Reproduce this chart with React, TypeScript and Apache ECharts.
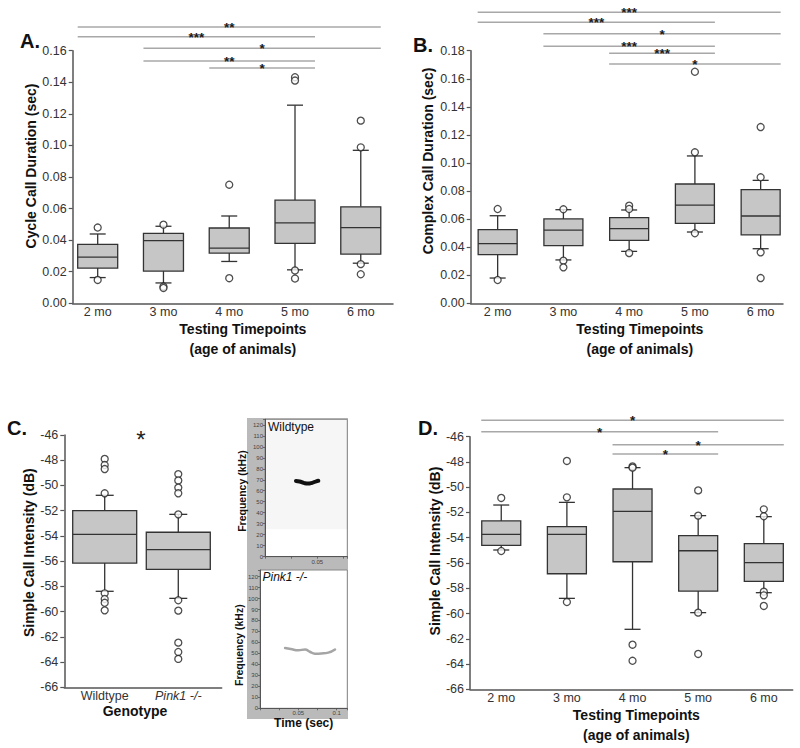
import React, { useEffect, useRef } from 'react';
import * as echarts from 'echarts';

const FONT = '"Liberation Sans", Arial, sans-serif';

// ---------- categories ----------
const months = ['2 mo', '3 mo', '4 mo', '5 mo', '6 mo'];
const genotypes = ['Wildtype', 'Pink1 -/-'];

// ---------- A: cycle call duration (sec) [min, Q1, median, Q3, max] ----------
const cycleBoxes = [
  [0.0163, 0.0223, 0.0293, 0.0373, 0.0439],
  [0.0129, 0.0204, 0.0397, 0.0443, 0.0488],
  [0.0265, 0.0318, 0.035, 0.0477, 0.0553],
  [0.0212, 0.038, 0.0509, 0.0653, 0.1255],
  [0.0254, 0.0312, 0.0479, 0.0611, 0.0969],
];
const cycleOutliers = [
  [0.048, 0.0148],
  [0.0498, 0.0106, 0.0097],
  [0.0751, 0.0159],
  [0.1432, 0.1411, 0.0208, 0.0157],
  [0.1157, 0.0988, 0.0248, 0.0184],
];
const cycleSig = [[0, 4], [0, 3], [1, 4], [1, 3], [2, 3]];
const cycleSigLabels = ['**', '***', '*', '**', '*'];

// ---------- B: complex call duration (sec) ----------
const complexBoxes = [
  [0.018, 0.0347, 0.0425, 0.0525, 0.0624],
  [0.0309, 0.0411, 0.0522, 0.0601, 0.0667],
  [0.037, 0.0449, 0.0532, 0.061, 0.0665],
  [0.0508, 0.057, 0.07, 0.085, 0.105],
  [0.0389, 0.0487, 0.0622, 0.081, 0.0876],
];
const complexOutliers = [
  [0.0672, 0.0166],
  [0.067, 0.0304, 0.0256],
  [0.0696, 0.0672, 0.0358],
  [0.165, 0.1076, 0.0499],
  [0.1256, 0.0898, 0.0363, 0.018],
];
const complexSig = [[0, 4], [0, 3], [1, 4], [1, 3], [2, 3], [2, 4]];
const complexSigLabels = ['***', '***', '*', '***', '***', '*'];

// ---------- C: simple call intensity by genotype (dB) ----------
const genoBoxes = [
  [-58.39, -56.15, -53.87, -52.0, -50.78],
  [-58.95, -56.65, -55.09, -53.71, -52.29],
];
const genoOutliers = [
  [-47.9, -48.38, -48.7, -50.62, -58.55, -59.0, -59.3, -59.9],
  [-49.1, -49.6, -50.17, -50.62, -52.29, -59.1, -59.92, -62.46, -63.2, -63.75],
];

// ---------- D: simple call intensity by age (dB) ----------
const intensityBoxes = [
  [-54.97, -54.6, -53.73, -52.67, -51.41],
  [-58.8, -56.85, -53.73, -53.12, -51.2],
  [-61.25, -55.9, -51.91, -50.14, -48.45],
  [-59.93, -58.22, -55.03, -53.84, -52.25],
  [-58.35, -57.45, -55.97, -54.47, -52.33],
];
const intensityOutliers = [
  [-50.85, -55.05],
  [-47.92, -50.8, -59.09],
  [-48.35, -48.45, -62.47, -63.74],
  [-50.25, -52.25, -59.93, -63.2],
  [-51.75, -52.3, -58.27, -58.56, -59.4],
];
const intensitySig = [[0, 4], [0, 3], [2, 4], [2, 3]];
const intensitySigLabels = ['*', '*', '*', '*'];

// ---------- spectrogram traces [time (s), frequency (kHz)] ----------
const wtTrace = [
  [0.0296, 68.9], [0.033, 68.4], [0.037, 67.2], [0.041, 66.5],
  [0.045, 67.2], [0.049, 68.6], [0.051, 69.0],
];
const pinkTrace = [
  [0.0327, 54.9], [0.04, 54.0], [0.05, 52.9], [0.0587, 53.6], [0.065, 51.5],
  [0.0717, 49.8], [0.08, 50.0], [0.089, 50.7], [0.0978, 53.5],
];

// ---------- layout (pixel offsets of significance bars above grid top) ----------
const cycleSigOffsets = [23.7, 14, 2.4, -10.3, -17.3];
const complexSigOffsets = [38.4, 28.4, 17, 4.4, -2.6, -13.3];
const intensitySigOffsets = [16.4, 5, -8, -17.3];

const AXIS_COLOR = '#555';

const boxRender = (boxW: number, capW: number) => (params: any, api: any) => {
  const x = api.value(0);
  const pMin = api.coord([x, api.value(1)]);
  const yQ1 = api.coord([x, api.value(2)])[1];
  const yMed = api.coord([x, api.value(3)])[1];
  const yQ3 = api.coord([x, api.value(4)])[1];
  const yMax = api.coord([x, api.value(5)])[1];
  const cx = pMin[0];
  const yMin = pMin[1];
  const ln = (x1: number, y1: number, x2: number, y2: number) => ({
    type: 'line',
    shape: { x1, y1, x2, y2 },
    style: { stroke: '#333', lineWidth: 1.3 },
  });
  return {
    type: 'group',
    children: [
      ln(cx, yMax, cx, yQ3),
      ln(cx, yQ1, cx, yMin),
      ln(cx - capW / 2, yMax, cx + capW / 2, yMax),
      ln(cx - capW / 2, yMin, cx + capW / 2, yMin),
      {
        type: 'rect',
        shape: { x: cx - boxW / 2, y: yQ3, width: boxW, height: yQ1 - yQ3 },
        style: { fill: '#c6c6c6', stroke: '#333', lineWidth: 1.3 },
      },
      ln(cx - boxW / 2, yMed, cx + boxW / 2, yMed),
    ],
  };
};

const sigRender = (offsets: number[], labels: string[], yRef: number) => (params: any, api: any) => {
  const i = api.value(2);
  const x1 = api.coord([api.value(0), yRef])[0] - 20;
  const x2 = api.coord([api.value(1), yRef])[0] + 20;
  const y = params.coordSys.y - offsets[i];
  return {
    type: 'group',
    children: [
      { type: 'line', shape: { x1, y1: y, x2, y2: y }, style: { stroke: '#a8a8a8', lineWidth: 1.5 } },
      {
        type: 'text',
        style: {
          text: labels[i], x: (x1 + x2) / 2, y: y + 0.5,
          textAlign: 'center', textVerticalAlign: 'middle', align: 'center', verticalAlign: 'middle',
          fill: '#1a1a1a', fontSize: 13.5, fontFamily: FONT, fontWeight: 'bold',
        },
      },
    ],
  };
};

const catFormatter = (cats: string[], italicIdx: number) => (v: number) => {
  const r = Math.round(v);
  if (Math.abs(v - r) > 1e-6 || !cats[r]) return '';
  return r === italicIdx ? `{i|${cats[r]}}` : cats[r];
};

const xAx = (grid: number, min: number, max: number, cats: string[], name: string, nameGap: number, padLeft: number, italicIdx = -1, lh = 20) => ({
  type: 'value', gridIndex: grid, min, max,
  axisLine: { show: true, onZero: false, lineStyle: { color: AXIS_COLOR, width: 1.5 } },
  axisTick: { show: false },
  splitLine: { show: false },
  axisLabel: {
    fontFamily: FONT, fontSize: 12.5, color: '#333', margin: 2,
    formatter: catFormatter(cats, italicIdx),
    rich: { i: { fontFamily: FONT, fontSize: 12.5, color: '#333', fontStyle: 'italic' } },
  },
  name, nameLocation: 'middle', nameGap,
  nameTextStyle: {
    fontFamily: FONT, fontWeight: 'bold', fontSize: 14, color: '#111', lineHeight: lh,
    padding: padLeft >= 0 ? [0, 0, 0, padLeft] : [0, -padLeft, 0, 0],
  },
});

const yAx = (grid: number, min: number, max: number, interval: number, fmt: any, name: string, nameGap: number, padUp: number) => ({
  type: 'value', gridIndex: grid, min, max, interval,
  axisLine: { show: true, onZero: false, lineStyle: { color: AXIS_COLOR, width: 1.5 } },
  axisTick: { show: true, length: 4, lineStyle: { color: AXIS_COLOR, width: 1.2 } },
  splitLine: { show: false },
  axisLabel: { fontFamily: FONT, fontSize: 12.5, color: '#333', margin: 6, formatter: fmt },
  name, nameLocation: 'middle', nameGap,
  nameTextStyle: {
    fontFamily: FONT, fontWeight: 'bold', fontSize: 14, color: '#111',
    padding: padUp >= 0 ? [0, 0, 0, padUp] : [0, -padUp, 0, 0],
  },
});

const specX = (grid: number, max: number, labels: number[], name?: string) => ({
  type: 'value', gridIndex: grid, min: 0, max, interval: 0.025,
  axisLine: { show: true, onZero: false, lineStyle: { color: AXIS_COLOR, width: 1 } },
  axisTick: { show: true, length: 2, lineStyle: { color: AXIS_COLOR, width: 0.8 } },
  splitLine: { show: false },
  axisLabel: {
    fontFamily: FONT, fontSize: 6, color: '#444', margin: 2,
    formatter: (v: number) => {
      const hit = labels.find((l) => Math.abs(l - v) < 1e-9);
      return hit !== undefined ? String(hit) : '';
    },
  },
  name, nameLocation: 'middle', nameGap: 9,
  nameTextStyle: { fontFamily: FONT, fontWeight: 'bold', fontSize: 12, color: '#111' },
});

const specY = (grid: number, max: number, nameGap: number, padDown: number) => ({
  type: 'value', gridIndex: grid, min: 0, max, interval: 10,
  axisLine: { show: true, onZero: false, lineStyle: { color: AXIS_COLOR, width: 1 } },
  axisTick: { show: true, length: 2, lineStyle: { color: AXIS_COLOR, width: 0.8 } },
  splitLine: { show: false },
  axisLabel: {
    fontFamily: FONT, fontSize: 6, color: '#444', margin: 2,
    formatter: (v: number) => (v <= 120 && Math.abs(v % 10) < 1e-9 ? String(v) : ''),
  },
  name: 'Frequency (kHz)', nameLocation: 'middle', nameGap,
  nameTextStyle: { fontFamily: FONT, fontWeight: 'bold', fontSize: 10.5, color: '#111', padding: [0, padDown, 0, 0] },
});

const boxSeries = (axis: number, boxes: number[][], boxW: number, capW: number) => ({
  type: 'custom', xAxisIndex: axis, yAxisIndex: axis, silent: true, z: 2,
  data: boxes.map((b, i) => [i, ...b]),
  encode: { x: 0, y: [1, 2, 3, 4, 5] },
  renderItem: boxRender(boxW, capW),
});

const outlierSeries = (axis: number, outliers: number[][]) => ({
  type: 'scatter', xAxisIndex: axis, yAxisIndex: axis, silent: true, z: 3,
  data: outliers.flatMap((arr, i) => arr.map((v) => [i, v])),
  symbol: 'circle', symbolSize: 7,
  itemStyle: { color: '#fff', borderColor: '#222', borderWidth: 1.3 },
});

const sigSeries = (axis: number, pairs: number[][], labels: string[], offsets: number[], yRef: number) => ({
  type: 'custom', xAxisIndex: axis, yAxisIndex: axis, silent: true, z: 4, clip: false,
  data: pairs.map((p, i) => [p[0], p[1], i, yRef]),
  encode: { x: [0, 1], y: 3 },
  renderItem: sigRender(offsets, labels, yRef),
});

const gText = (text: string, x: number, y: number, size: number, opts: any = {}) => ({
  type: 'text', z: 10, silent: true,
  style: {
    text, x, y, fill: opts.fill || '#111', fontSize: size, fontFamily: FONT,
    fontWeight: opts.weight || 'normal', fontStyle: opts.style || 'normal',
    textAlign: opts.align || 'left', align: opts.align || 'left',
    textVerticalAlign: 'middle', verticalAlign: 'middle',
  },
});

const fmt2 = (v: number) => v.toFixed(2);
const fmtInt = (v: number) => String(Math.round(v));

const option: any = {
  animation: false,
  backgroundColor: '#fff',
  grid: [
    { left: 72.7, top: 50.7, width: 320.3, height: 252.6 },
    { left: 470.7, top: 50.7, width: 312.3, height: 252.6 },
    { left: 64.3, top: 435, width: 157.4, height: 252.3 },
    { left: 470, top: 436.7, width: 322.7, height: 252.6 },
    { left: 265, top: 419.3, width: 82.3, height: 137.4, show: true, backgroundColor: '#fff', borderColor: '#888', borderWidth: 1 },
    { left: 260, top: 570, width: 87.3, height: 138.3, show: true, backgroundColor: '#fff', borderColor: '#888', borderWidth: 1 },
  ],
  xAxis: [
    xAx(0, -0.38, 4.49, months, 'Testing Timepoints\n(age of animals)', 9, 20),
    xAx(1, -0.41, 4.34, months, 'Testing Timepoints\n(age of animals)', 9, 26),
    xAx(2, -0.549, 1.59, genotypes, 'Genotype', 15, -16, 1, 16),
    xAx(3, -0.476, 4.44, months, 'Testing Timepoints\n(age of animals)', 13, 10),
    specX(4, 0.0787, [0.05]),
    specX(5, 0.1138, [0.05, 0.1], 'Time (sec)'),
  ],
  yAxis: [
    yAx(0, 0, 0.16, 0.02, fmt2, 'Cycle Call Duration (sec)', 30, 22),
    yAx(1, 0, 0.18, 0.02, fmt2, 'Complex Call Duration (sec)', 36, 32),
    yAx(2, -66, -46, 2, fmtInt, 'Simple Call Intensity (dB)', 25, 17),
    yAx(3, -66, -46, 2, fmtInt, 'Simple Call Intensity (dB)', 25, 24),
    specY(4, 125, 18, 6),
    specY(5, 126, 13, 12),
  ],
  series: [
    boxSeries(0, cycleBoxes, 40, 16),
    outlierSeries(0, cycleOutliers),
    sigSeries(0, cycleSig, cycleSigLabels, cycleSigOffsets, 0),
    boxSeries(1, complexBoxes, 39, 16),
    outlierSeries(1, complexOutliers),
    sigSeries(1, complexSig, complexSigLabels, complexSigOffsets, 0),
    boxSeries(2, genoBoxes, 64, 18),
    outlierSeries(2, genoOutliers),
    boxSeries(3, intensityBoxes, 39, 16),
    outlierSeries(3, intensityOutliers),
    sigSeries(3, intensitySig, intensitySigLabels, intensitySigOffsets, -66),
    {
      type: 'line', xAxisIndex: 4, yAxisIndex: 4, data: wtTrace, showSymbol: false, smooth: true, silent: true,
      lineStyle: { color: '#111', width: 4, cap: 'round' },
      markArea: { silent: true, itemStyle: { color: 'rgba(0,0,0,0.035)' }, data: [[{ yAxis: 25 }, { yAxis: 125 }]] },
    },
    {
      type: 'line', xAxisIndex: 5, yAxisIndex: 5, data: pinkTrace, showSymbol: false, smooth: true, silent: true,
      lineStyle: { color: '#a5a5a5', width: 2.5, cap: 'round' },
    },
  ],
  graphic: [
    { type: 'rect', z: -1, silent: true, shape: { x: 247, y: 418, width: 101, height: 301 }, style: { fill: '#bababa' } },
    gText('A.', 20, 41, 20, { weight: 'bold' }),
    gText('B.', 413, 45, 20, { weight: 'bold' }),
    gText('C.', 7, 428, 20, { weight: 'bold' }),
    gText('D.', 418, 428, 20, { weight: 'bold' }),
    gText('*', 141, 439, 24, { align: 'center', fill: '#222' }),
    gText('Wildtype', 268, 426.5, 12),
    gText('Pink1 -/-', 262.5, 576.5, 12, { style: 'italic' }),
  ],
};

export default function App() {
  const ref = useRef<HTMLDivElement>(null);
  useEffect(() => {
    if (!ref.current) return;
    const chart = echarts.init(ref.current, null, { renderer: 'svg', width: 800, height: 748 });
    chart.setOption(option);
    return () => chart.dispose();
  }, []);
  return (
    <div
      ref={ref}
      style={{ position: 'absolute', left: 0, top: 0, width: 800, height: 748, background: '#fff' }}
    />
  );
}
